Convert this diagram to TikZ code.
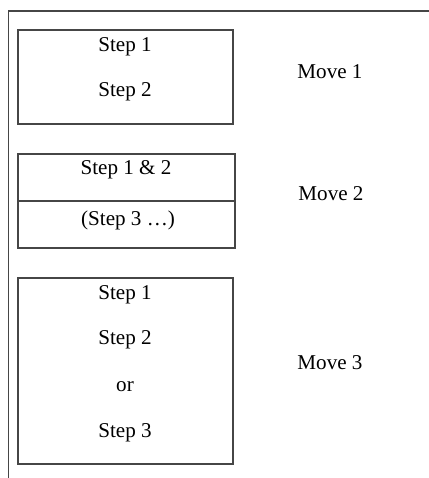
\documentclass[tikz,border=0pt]{standalone}
\usepackage{fontspec}
\setmainfont{Liberation Serif}
\usepackage{tikz}
\usepackage{xcolor}
\usetikzlibrary{positioning}
\definecolor{framegray}{RGB}{70,70,70}
\tikzset{
	boxline/.style={draw=framegray, line width=0.6pt},
	steptext/.style={font=\fontsize{12}{14}\selectfont, inner sep=0pt},
}
\begin{document}
\begin{tikzpicture}
			\useasboundingbox (0,0) rectangle (8.58,9.56);
			\draw[boxline] (0.17,0) -- (0.17,9.34) -- (8.58,9.34);
			% move 1
			\draw[boxline] (0.36,7.08) rectangle (4.66,8.96);
			\node[steptext] (s11) at (2.5,8.62) {Step 1};
			\node[steptext] (s12) at (2.5,7.72) {Step 2};
			\node[steptext] (m1) at (6.6,8.12) {Move 1};
			% move 2
			\draw[boxline] (0.36,4.60) rectangle (4.70,6.48);
			\draw[boxline] (0.36,5.54) -- (4.70,5.54);
			\node[steptext] (s21) at (2.52,6.16) {Step 1 \& 2};
			\node[steptext] (s23) at (2.56,5.16) {(Step 3 …)};
			\node[steptext] (m2) at (6.62,5.68) {Move 2};
			% move 3
			\draw[boxline] (0.36,0.28) rectangle (4.66,4.00);
			\node[steptext] (s31) at (2.5,3.66) {Step 1};
			\node[steptext] (s32) at (2.5,2.76) {Step 2};
			\node[steptext] (sor) at (2.5,1.82) {or};
			\node[steptext] (s33) at (2.5,0.90) {Step 3};
			\node[steptext] (m3) at (6.6,2.30) {Move 3};
		\end{tikzpicture}
\end{document}
